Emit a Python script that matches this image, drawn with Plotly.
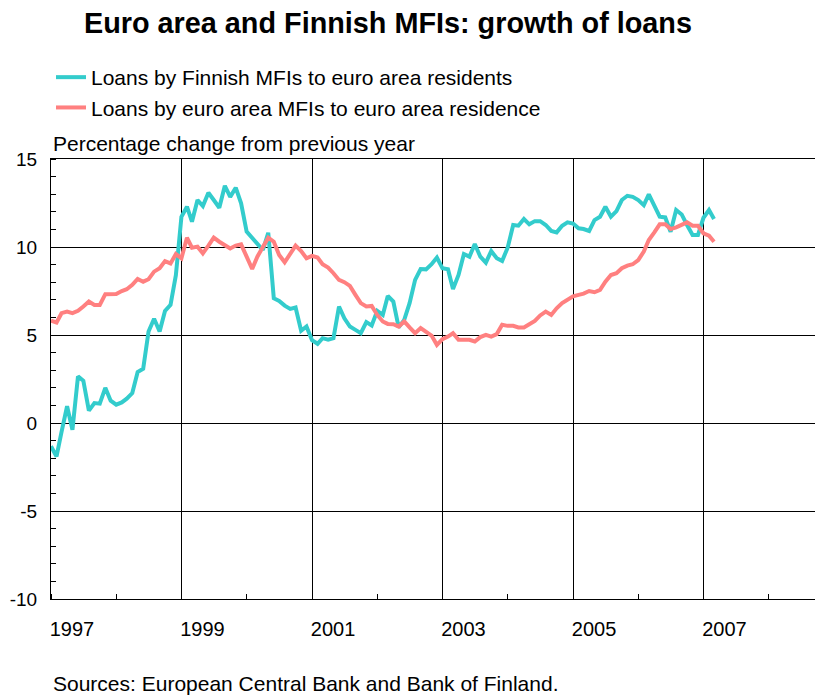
import pandas as pd
import plotly.graph_objects as go

# Monthly annual growth rates (%), Jan 1997 - Mar 2007
fin_loans = [
    -1.32, -1.9, -0.5, 0.95, -0.38, 2.65, 2.4, 0.7, 1.13, 1.1, 2.0, 1.27,
    1.04, 1.17, 1.38, 1.7, 2.9, 3.08, 5.2, 5.92, 5.2, 6.37, 6.71, 8.4,
    11.72, 12.29, 11.44, 12.67, 12.33, 13.08, 12.67, 12.23, 13.48, 12.85, 13.37, 12.48,
    10.87, 10.49, 10.15, 9.83, 10.81, 7.09, 6.94, 6.67, 6.48, 6.56, 5.24, 5.48,
    4.7, 4.5, 4.82, 4.73, 4.82, 6.62, 5.95, 5.48, 5.29, 5.1, 5.73, 5.54,
    6.37, 6.14, 7.22, 6.9, 5.43, 5.86, 6.81, 8.13, 8.75, 8.73, 9.02, 9.4,
    8.79, 8.73, 7.62, 8.41, 9.6, 9.45, 10.17, 9.45, 9.11, 9.77, 9.36, 9.21,
    9.96, 11.25, 11.21, 11.59, 11.29, 11.47, 11.47, 11.25, 10.91, 10.83, 11.21, 11.4,
    11.33, 11.06, 11.02, 10.91, 11.53, 11.72, 12.29, 11.72, 12.04, 12.67, 12.91, 12.85,
    12.67, 12.38, 12.99, 12.29, 11.72, 11.68, 10.87, 12.1, 11.85, 11.25, 10.68, 10.68,
    11.66, 12.1, 11.59,
]
ea_loans = [
    5.82, 5.71, 6.24, 6.33, 6.24, 6.37, 6.62, 6.9, 6.71, 6.71, 7.32, 7.32,
    7.33, 7.5, 7.6, 7.85, 8.19, 8.03, 8.17, 8.6, 8.79, 9.2, 9.07, 9.6,
    9.36, 10.53, 9.96, 10.02, 9.64, 10.08, 10.53, 10.3, 10.11, 9.92, 10.08, 10.15,
    9.45, 8.75, 9.45, 10.02, 10.53, 10.3, 9.55, 9.13, 9.64, 10.08, 9.77, 9.36,
    9.5, 9.4, 9.02, 8.83, 8.51, 8.13, 8.0, 7.79, 7.28, 6.81, 6.62, 6.65,
    6.14, 5.77, 5.63, 5.61, 5.48, 5.77, 5.43, 5.1, 5.39, 5.2, 4.97, 4.44,
    4.76, 4.91, 5.1, 4.73, 4.73, 4.73, 4.63, 4.88, 5.01, 4.91, 5.05, 5.58,
    5.52, 5.52, 5.43, 5.43, 5.61, 5.8, 6.11, 6.33, 6.14, 6.52, 6.81, 7.03,
    7.2, 7.28, 7.35, 7.5, 7.43, 7.56, 8.03, 8.41, 8.51, 8.79, 8.94, 9.02,
    9.26, 9.74, 10.4, 10.83, 11.29, 11.29, 11.02, 11.12, 11.25, 11.4, 11.21, 11.21,
    10.78, 10.64, 10.3,
]
months = pd.date_range("1997-01-01", periods=len(fin_loans), freq="MS")

year_ticks = ["1997", "1999", "2001", "2003", "2005", "2007"]
y_ticks = [-10, -5, 0, 5, 10, 15]

series_names = [
    "Loans by Finnish MFIs to euro area residents",
    "Loans by euro area MFIs to euro area residence",
]
teal = "#33CCCC"
salmon = "#FF8080"
FONT = "Liberation Sans, Arial, sans-serif"

fig = go.Figure()
fig.add_trace(go.Scatter(x=months, y=fin_loans, mode="lines", name=series_names[0],
                         line=dict(color=teal, width=4)))
fig.add_trace(go.Scatter(x=months, y=ea_loans, mode="lines", name=series_names[1],
                         line=dict(color=salmon, width=4)))

# the page body adds an 8px offset; layout below is in figure pixels
OFF = 8
W, H = 823 - OFF, 695 - OFF
L, T = 51 - OFF, 159 - OFF
R = 0
B = H - (599 - OFF)
pw, ph = W - L - R, H - T - B

def px_x(x):
    return (x - OFF - L) / pw

def px_y(y):
    return (T + ph - (y - OFF)) / ph

fig.update_layout(
    width=W, height=H,
    margin=dict(l=L, r=R, t=T, b=B, autoexpand=False),
    paper_bgcolor="white", plot_bgcolor="white",
    font=dict(family=FONT, size=21, color="black"),
    showlegend=True,
    legend=dict(x=px_x(51), y=px_y(57), xanchor="left", yanchor="top",
                font=dict(size=21), bgcolor="rgba(0,0,0,0)", tracegroupgap=0,
                itemwidth=30),
    xaxis=dict(
        type="date",
        automargin=False,
        range=["1997-01-01", "2008-10-31"],
        tickmode="array",
        tickvals=[f"{y}-01-01" for y in year_ticks],
        ticktext=year_ticks,
        ticks="",
        ticklabelshift=21,
        ticklabelstandoff=12,
        tickfont=dict(size=20),
        showgrid=True, gridcolor="black", gridwidth=1,
        showline=True, linecolor="black", linewidth=1, mirror=True,
        zeroline=False,
        minor=dict(dtick="M12", tick0="1997-01-01", ticks="inside", ticklen=5,
                   tickcolor="black", showgrid=False),
    ),
    yaxis=dict(
        automargin=False,
        range=[-10, 15],
        tickmode="array",
        tickvals=y_ticks,
        ticktext=[str(v) for v in y_ticks],
        ticks="",
        ticklabelstandoff=9,
        tickfont=dict(size=19),
        showgrid=True, gridcolor="black", gridwidth=1,
        showline=True, linecolor="black", linewidth=1,
        zeroline=False,
        minor=dict(dtick=1, tick0=0, ticks="inside", ticklen=5,
                   tickcolor="black", showgrid=False),
    ),
    annotations=[
        dict(text="<b>Euro area and Finnish MFIs: growth of loans</b>",
             xref="paper", yref="paper", x=px_x(82), y=px_y(23),
             xanchor="left", yanchor="middle", showarrow=False,
             font=dict(size=28.8, family=FONT)),
        dict(text="Percentage change from previous year",
             xref="paper", yref="paper", x=px_x(51), y=px_y(143),
             xanchor="left", yanchor="middle", showarrow=False,
             font=dict(size=21, family=FONT)),
        dict(text="Sources: European Central Bank and Bank of Finland.",
             xref="paper", yref="paper", x=px_x(51), y=px_y(683),
             xanchor="left", yanchor="middle", showarrow=False,
             font=dict(size=21, family=FONT)),
    ],
)

fig.write_html("out.html")
